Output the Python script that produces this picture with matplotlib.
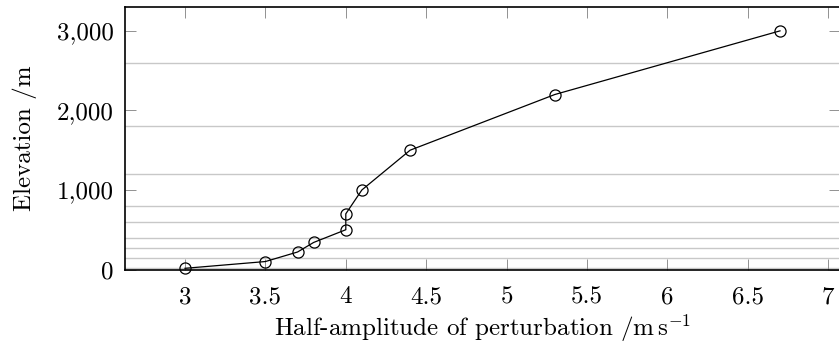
import matplotlib
matplotlib.use("Agg")
import matplotlib.pyplot as plt
from matplotlib.ticker import FuncFormatter

amplitude = [3.0, 3.5, 3.7, 3.8, 4.0, 4.0, 4.1, 4.4, 5.3, 6.7]
elevation = [15, 100, 220, 340, 500, 700, 1000, 1500, 2200, 3000]
grid_levels = [25, 150, 275, 400, 600, 800, 1200, 1800, 2600]
xticks = [3, 3.5, 4, 4.5, 5, 5.5, 6, 6.5, 7]
yticks = [0, 1000, 2000, 3000]

plt.rcParams['font.family'] = 'serif'
plt.rcParams['font.serif'] = ['cmr10', 'DejaVu Serif']
plt.rcParams['mathtext.fontset'] = 'cm'
plt.rcParams['axes.formatter.use_mathtext'] = True

fig = plt.figure(figsize=(8.39, 3.45), dpi=100)
ax = fig.add_axes([125/839, 1-269.5/345, (839.5-125)/839, (269.5-7)/345])

for g in grid_levels:
    ax.axhline(g, color='#c8c8c8', lw=1.0, zorder=1)

ax.plot(amplitude, elevation, color='black', lw=0.9, marker='o', markersize=8,
        markerfacecolor='none', markeredgecolor='black', markeredgewidth=0.9,
        zorder=3, clip_on=False)

ax.set_xlim(2.627, 7.07)
ax.set_ylim(0, 3300)
ax.set_xticks(xticks)
ax.set_yticks(yticks)
ax.xaxis.set_major_formatter(FuncFormatter(lambda v, p: f"{v:g}"))
ax.yaxis.set_major_formatter(FuncFormatter(lambda v, p: f"{int(v):,}"))
ax.tick_params(direction='in', length=8, width=0.6, color='#808080',
               top=True, right=True, labelsize=18)
ax.tick_params(axis='x', pad=12)
ax.tick_params(axis='y', pad=8)
for s in ax.spines.values():
    s.set_linewidth(1.2)

ax.set_xlabel(r'Half-amplitude of perturbation /$\mathrm{m\,s^{-1}}$', fontsize=18, labelpad=3)
ax.set_ylabel('Elevation /m', fontsize=18, labelpad=14)

fig.savefig('out.png', dpi=100)
